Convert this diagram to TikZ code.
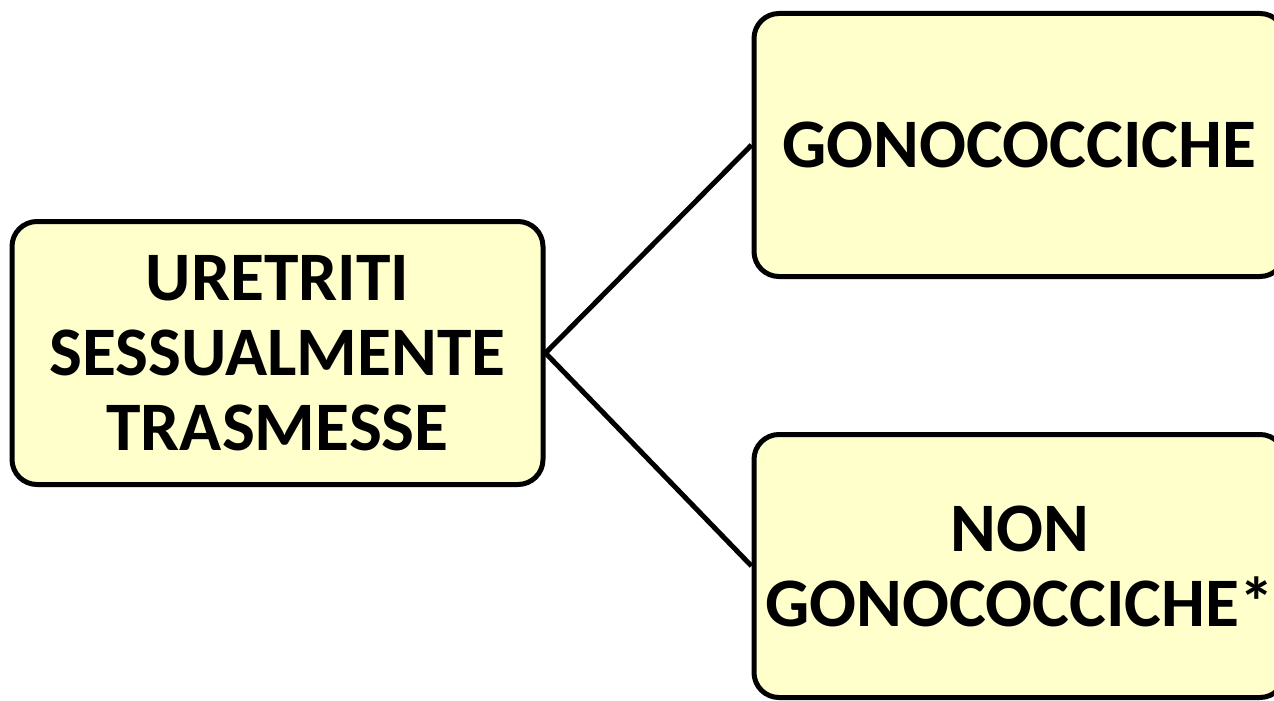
\documentclass[tikz,border=0pt]{standalone}
\usepackage{fontspec}
\setmainfont{Carlito}
\definecolor{boxfill}{HTML}{FFFFCC}
\begin{document}
\begin{tikzpicture}[x=1pt,y=1pt,
  box/.style={draw=black, fill=boxfill, line width=5pt, rounded corners=25pt,
    minimum width=531pt, minimum height=263pt, inner sep=0pt,
    align=center, font=\fontsize{69.5}{75}\selectfont\bfseries},
  link/.style={draw=black, line width=5pt}]
\useasboundingbox (0,0) rectangle (1274,-701);
\fill[white] (0,0) rectangle (1274,-701);
\node[box] (src) at (277.5,-353) {URETRITI\\SESSUALMENTE\\TRASMESSE};
\node[box] (gono) at (1019.5,-145) {GONOCOCCICHE};
\node[box] (nongono) at (1019.5,-566) {NON\\GONOCOCCICHE*};
\draw[link] (src.east) -- (gono.west);
\draw[link] (src.east) -- (nongono.west);
\end{tikzpicture}
\end{document}
